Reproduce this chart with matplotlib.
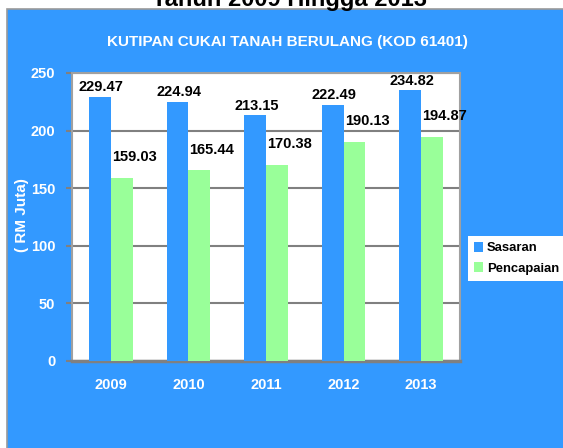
import matplotlib
matplotlib.use("Agg")
import matplotlib.pyplot as plt
import numpy as np
from matplotlib.patches import Rectangle

years = ["2009", "2010", "2011", "2012", "2013"]
sasaran = [229.47, 224.94, 213.15, 222.49, 234.82]
pencapaian = [159.03, 165.44, 170.38, 190.13, 194.87]

plt.rcParams['font.family'] = ['Liberation Sans', 'DejaVu Sans']
plt.rcParams['font.weight'] = 'bold'

blue = '#3399FF'
green = '#99FF99'
grey = '#808080'

fig = plt.figure(figsize=(5.63, 4.48), dpi=100)
fig.patch.set_facecolor('white')

# blue chart panel
fig.patches.append(Rectangle((7/563, -0.01), 1.0, 1 - 9/448 + 0.01, transform=fig.transFigure,
                             facecolor=blue, edgecolor='#9a9a9a', linewidth=1.2, zorder=-10))

fig.text(0.515, 1 - 6/448, "Tahun 2009 Hingga 2013", ha='center', va='baseline',
         fontsize=17, color='black', fontweight='bold')
fig.text(0.51, 1 - 42/448, "KUTIPAN CUKAI TANAH BERULANG (KOD 61401)", ha='center', va='center',
         fontsize=11, color='white', fontweight='bold')

ax = fig.add_axes([72/563, 1 - 361/448, (460 - 72)/563, (361 - 73)/448])
ax.set_facecolor('white')

x = np.arange(len(years))
w = 0.28
b1 = ax.bar(x - w/2, sasaran, w, color=blue, label='Sasaran', zorder=3)
b2 = ax.bar(x + w/2, pencapaian, w, color=green, label='Pencapaian', zorder=3)

for xi, v in zip(x, sasaran):
    ax.annotate(f"{v:.2f}", (xi - w/2, v), xytext=(1, 2), textcoords='offset points',
                ha='center', va='bottom', fontsize=10.5, fontweight='bold', color='black')
for xi, v in zip(x, pencapaian):
    ax.annotate(f"{v:.2f}", (xi + w/2, v), xytext=(9, 10), textcoords='offset points',
                ha='center', va='bottom', fontsize=10.5, fontweight='bold', color='black')

ax.set_xlim(-0.5, len(years) - 0.5)
ax.set_ylim(0, 250)
ax.set_yticks([0, 50, 100, 150, 200, 250])
ax.set_xticks(x)
ax.set_xticklabels(years)
ax.yaxis.grid(True, color=grey, linewidth=1.5, zorder=0)
ax.set_axisbelow(True)
ax.tick_params(axis='y', colors=grey, labelcolor='white', labelsize=10.5, length=4, width=1.5, pad=8)
ax.tick_params(axis='x', length=0, labelcolor='white', labelsize=10.5, pad=12)
for lab in ax.get_xticklabels() + ax.get_yticklabels():
    lab.set_fontweight('bold')
for s in ['left', 'right', 'top']:
    ax.spines[s].set_color('#a0a0a0')
    ax.spines[s].set_linewidth(1.5)
ax.spines['bottom'].set_color(grey)
ax.spines['bottom'].set_linewidth(2.5)

fig.text(22/563, 1 - 215/448, "( RM Juta)", rotation=90, ha='center', va='center',
         fontsize=11, color='white', fontweight='bold')

leg = fig.legend(handles=[b1, b2], loc='upper left', bbox_to_anchor=(468/563, 1 - 236/448),
                 frameon=True, fancybox=False, edgecolor='white', facecolor='white', framealpha=1,
                 handlelength=0.7, handleheight=0.8, handletextpad=0.3, borderpad=0.45,
                 labelspacing=0.6, prop={'size': 9.4, 'weight': 'bold'}, borderaxespad=0)
leg.get_frame().set_linewidth(0)

fig.savefig("out.png", dpi=100)
